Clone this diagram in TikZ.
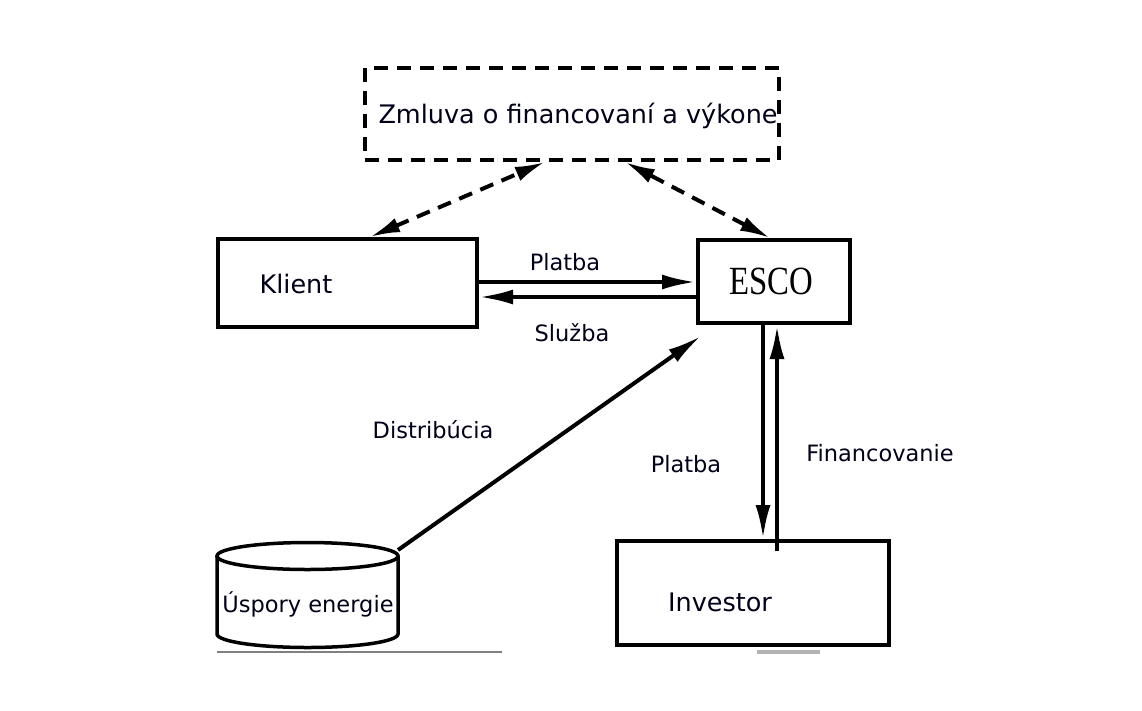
\documentclass[tikz,border=0pt]{standalone}
\usepackage{fontspec}
\setmainfont{DejaVu Sans}
\newfontfamily\escofont{Liberation Serif}
\usetikzlibrary{arrows.meta,calc}
\begin{document}
\begin{tikzpicture}[x=1pt,y=-1pt,
 box/.style={draw,line width=4pt,inner sep=0pt,fill=white},
 big/.style={font=\fontsize{25.5}{30}\selectfont,inner sep=0pt,text=black!90!blue},
 small/.style={font=\fontsize{22.5}{26}\selectfont,inner sep=0pt,text=black!90!blue},
 arr/.style={line width=4pt,-{Latex[length=34pt,width=15pt]}},
 darr/.style={line width=4pt,dash pattern=on 14pt off 9pt,{Latex[length=30pt,width=15pt]}-{Latex[length=30pt,width=15pt]}}]
\useasboundingbox (0,0) rectangle (1142,710);
\fill[white] (0,0) rectangle (1142,710);

% boxes
\node[box,dash pattern=on 14pt off 9pt,minimum width=414pt,minimum height=92pt] (contract) at (572,114) {};
\node[big] (contractlbl) at (578,116) {Zmluva o financovaní a výkone};
\node[box,minimum width=259pt,minimum height=88pt] (klient) at (347.5,283) {};
\node[big] (klientlbl) at (296,284) {Klient};
\node[box,minimum width=152pt,minimum height=83pt] (esco) at (774,281.5) {};
\node[inner sep=0pt,font=\escofont\fontsize{40}{46}\selectfont] (escolbl) at (771,281) {\scalebox{0.82}[1]{ESCO}};
\node[box,minimum width=272pt,minimum height=104pt] (investor) at (753,593) {};
\node[big] (investorlbl) at (720,602) {Investor};

% cylinder
\draw[line width=3.5pt,fill=white] (217,556) -- (217,634) arc[start angle=180,end angle=0,x radius=90.5,y radius=13.5] -- (398,556);
\draw[line width=3.5pt] (307.5,556) ellipse[x radius=90.5,y radius=13.5];
\coordinate (cyltr) at (398,550);
\node[small] (cyllbl) at (308,604) {Úspory energie};
\draw[gray,line width=2.5pt] (217,652) -- (502,652);
\draw[gray!60,line width=4pt] (757,652) -- (820,652);

% connectors
\draw[darr] (klient.north -| 370,0) -- (contract.south -| 545,0);
\draw[darr] (esco.north -| 770,0) -- (contract.south -| 625,0);
\draw[arr] (klient.east |- 0,282) -- (esco.west |- 0,282);
\draw[arr] (esco.west |- 0,297) -- (klient.east |- 0,297);
\node[small] (platba1) at (565,262) {Platba};
\node[small] (sluzba) at (572,333) {Služba};
\coordinate (distend) at (701,336);
\draw[arr] (cyltr) -- (distend);
\node[small] (distr) at (433,430) {Distribúcia};
\draw[arr] (esco.south -| 763,0) -- (investor.north -| 763,0);
\draw[arr] ($(investor.north -| 777,0)+(0,12)$) -- (esco.south -| 777,0);
\node[small] (platba2) at (686,464) {Platba};
\node[small] (fin) at (880,453) {Financovanie};
\end{tikzpicture}
\end{document}
